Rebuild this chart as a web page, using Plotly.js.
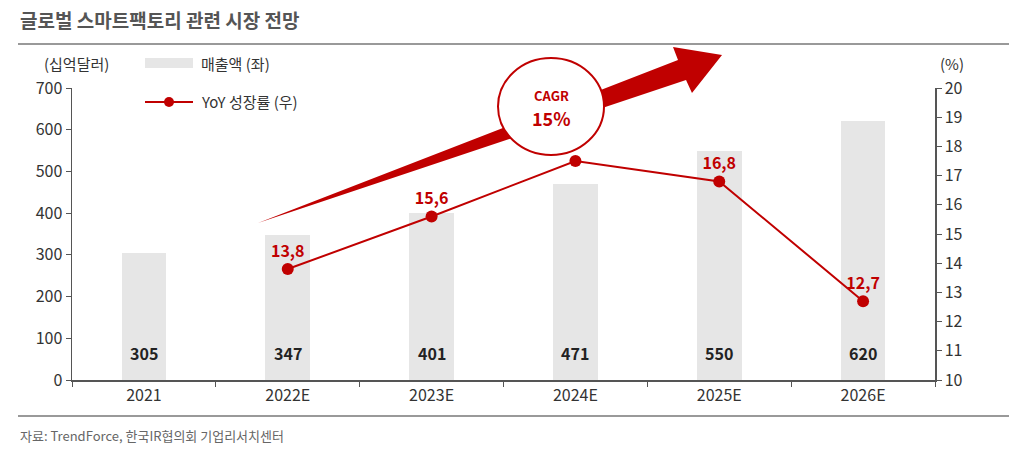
<!DOCTYPE html>
<html><head><meta charset="utf-8">
<script src="https://cdn.plot.ly/plotly-3.0.1.min.js"></script>
<style>body{margin:0;background:#fff}#chart{width:1009px;height:456px}</style>
</head><body><div id="chart"></div>
<script>
const categories = ["2021","2022E","2023E","2024E","2025E","2026E"];
const sales = [305,347,401,471,550,620];
const yoy = [null,13.8,15.6,17.5,16.8,12.7];
const yoyLabels = ["","13,8","15,6","","16,8","12,7"];
const leftTicks = [0,100,200,300,400,500,600,700];
const rightTicks = [10,11,12,13,14,15,16,17,18,19,20];

const FONT = "'Noto Sans CJK KR','Noto Sans',sans-serif";
const RED = "#c00000";
const W = 1009, H = 456, L = 72, R = 74, T = 88, B = 76;
const PW = W - L - R, PH = H - T - B;
const px = x => (x - L) / PW;
const py = y => (H - B - y) / PH;
function path(pts){ return pts.map((p,i)=>(i?"L":"M")+px(p[0]).toFixed(4)+","+py(p[1]).toFixed(4)).join(" ")+" Z"; }

const traces = [
  {type:"bar", x:categories, y:sales, yaxis:"y", marker:{color:"#e6e6e6"}, width:0.31, showlegend:false, hoverinfo:"skip"},
  {type:"scatter", mode:"lines+markers+text", x:categories, y:yoy, yaxis:"y2",
   line:{color:RED,width:2}, marker:{color:RED,size:12},
   text:yoyLabels, textposition:"top center",
   textfont:{family:FONT,size:16,color:RED,weight:"bold"}, showlegend:false, cliponaxis:false}
];

const annotations = categories.map((c,i)=>({
  x:i, y:0, xref:"x", yref:"y", yanchor:"bottom", yshift:13, text:String(sales[i]), showarrow:false,
  font:{family:FONT,size:16,color:"#222",weight:"bold"}
}));
annotations.push(
  {xref:"paper",yref:"paper",x:px(18),y:py(20),xanchor:"left",yanchor:"middle",text:"<b>글로벌 스마트팩토리 관련 시장 전망</b>",showarrow:false,font:{family:FONT,size:19,color:"#555"}},
  {xref:"paper",yref:"paper",x:px(76),y:py(63),xanchor:"center",yanchor:"middle",text:"(십억달러)",showarrow:false,font:{family:FONT,size:15,color:"#333"}},
  {xref:"paper",yref:"paper",x:px(952),y:py(63),xanchor:"center",yanchor:"middle",text:"(%)",showarrow:false,font:{family:FONT,size:15,color:"#333"}},
  {xref:"paper",yref:"paper",x:px(199),y:py(63),xanchor:"left",yanchor:"middle",text:"매출액 (좌)",showarrow:false,font:{family:FONT,size:15,color:"#333"}},
  {xref:"paper",yref:"paper",x:px(199),y:py(102),xanchor:"left",yanchor:"middle",text:"YoY 성장률 (우)",showarrow:false,font:{family:FONT,size:15,color:"#333"}},
  {xref:"paper",yref:"paper",x:px(18),y:py(435),xanchor:"left",yanchor:"middle",text:"자료: TrendForce, 한국IR협의회 기업리서치센터",showarrow:false,font:{family:FONT,size:13,color:"#666"}},
  {xref:"paper",yref:"paper",x:px(551),y:py(95),xanchor:"center",yanchor:"middle",text:"<b>CAGR</b>",showarrow:false,font:{family:FONT,size:13,color:RED}},
  {xref:"paper",yref:"paper",x:px(551),y:py(118),xanchor:"center",yanchor:"middle",text:"<b>15%</b>",showarrow:false,font:{family:FONT,size:18,color:RED}}
);

const shapes = [
  {type:"line",xref:"paper",yref:"paper",x0:px(18),x1:px(1009),y0:py(44),y1:py(44),line:{color:"#777",width:1.5}},
  {type:"line",xref:"paper",yref:"paper",x0:px(18),x1:px(1009),y0:py(416),y1:py(416),line:{color:"#777",width:1.5}},
  {type:"rect",xref:"paper",yref:"paper",x0:px(145),x1:px(193),y0:py(58),y1:py(68),fillcolor:"#e6e6e6",line:{width:0}},
  {type:"line",xref:"paper",yref:"paper",x0:px(145),x1:px(193),y0:py(102),y1:py(102),line:{color:RED,width:2}},
  {type:"circle",xref:"paper",yref:"paper",x0:px(164),x1:px(174),y0:py(97),y1:py(107),fillcolor:RED,line:{width:0}},
  {type:"path",xref:"paper",yref:"paper",layer:"above",
   path:path([[258,223],[678,60],[673,47],[722,55],[692,93],[686,80]]),
   fillcolor:RED,line:{width:0}},
  {type:"circle",xref:"paper",yref:"paper",layer:"above",x0:px(498),x1:px(604),y0:py(58),y1:py(155),fillcolor:"#fff",line:{color:RED,width:2}}
];

const layout = {
  width:W, height:H, margin:{l:L,r:R,t:T,b:B}, paper_bgcolor:"#fff", plot_bgcolor:"#fff",
  font:{family:FONT,color:"#333"}, showlegend:false, bargap:0,
  xaxis:{type:"category", range:[-0.5,5.5], showline:true, linecolor:"#555", linewidth:1.5,
    ticks:"outside", tickson:"boundaries", ticklen:5, tickcolor:"#555", tickfont:{size:16,color:"#333"}, showgrid:false, fixedrange:true},
  yaxis:{range:[0,700], tickvals:leftTicks, showline:true, linecolor:"#555", linewidth:1.5, ticks:"outside", ticklen:5, tickcolor:"#555",
    tickfont:{size:16,color:"#333"}, showgrid:false, zeroline:false},
  yaxis2:{range:[10,20], tickvals:rightTicks, overlaying:"y", side:"right", showline:true, linecolor:"#555", linewidth:1.5,
    ticks:"outside", ticklen:5, tickcolor:"#555", tickfont:{size:16,color:"#333"}, showgrid:false, zeroline:false},
  annotations, shapes
};
Plotly.newPlot("chart", traces, layout, {staticPlot:true});
</script></body></html>
